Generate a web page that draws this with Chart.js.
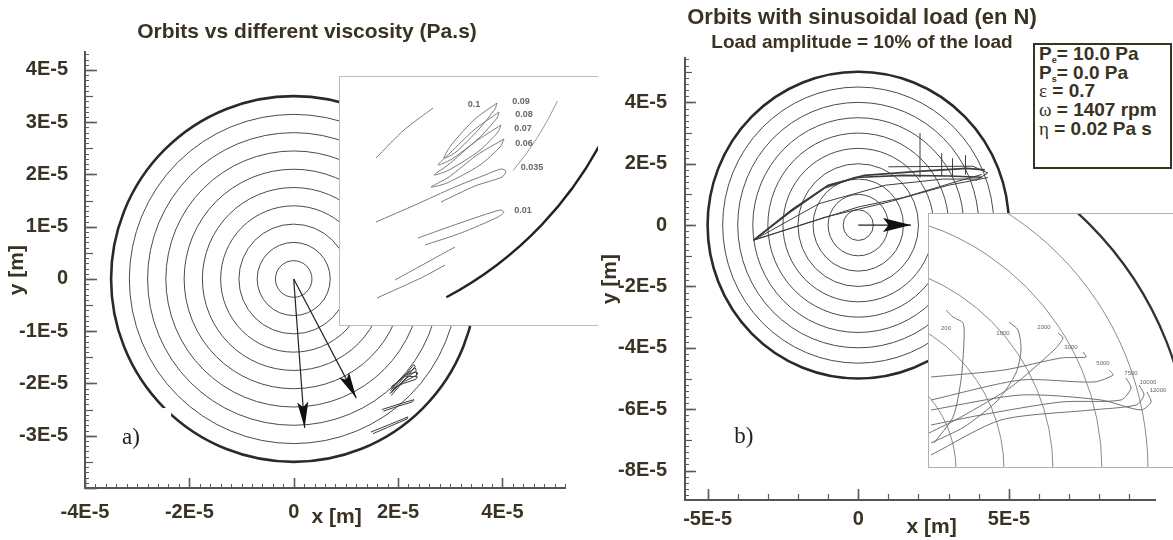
<!DOCTYPE html>
<html>
<head>
<meta charset="utf-8">
<script src="https://cdn.jsdelivr.net/npm/chart.js@4.4.1/dist/chart.umd.min.js"></script>
<style>
  html, body { margin: 0; padding: 0; background: #fff; }
  body { width: 1173px; height: 540px; position: relative; overflow: hidden; font-family: Arial, "Liberation Sans", sans-serif; }
  #leftMain { position: absolute; left: 0; top: 0; z-index: 1; }
  #rightMain { position: absolute; left: 551px; top: 0; z-index: 2; }
  .insetBox { position: absolute; background: #fff; z-index: 3; border: 1px solid #bcbcbc; border-right: none; }
  .insetBox canvas { display: block; }
  #leftInsetBox { left: 339px; top: 76px; }
  #rightInsetBox { left: 928px; top: 213px; border-color: #b0b0b0; }
  #legend { position: absolute; left: 1033px; top: 43px; width: 139px; height: 126px; box-sizing: border-box;
    border: 2px solid #3a3222; background: #fff; z-index: 4; color: #3a3222; padding: 0 0 0 4px;
    font: bold 19px/18.7px Arial, "Liberation Sans", sans-serif; white-space: nowrap; }
  #legend sub { font-size: 9px; line-height: 0; vertical-align: -3px; }
  #legend .g { font-family: "Liberation Serif", "Times New Roman", serif; font-weight: normal; }
</style>
</head>
<body>
<canvas id="leftMain" width="614" height="540"></canvas>
<canvas id="rightMain" width="622" height="540"></canvas>
<div class="insetBox" id="leftInsetBox"><canvas id="leftInset" width="258" height="248"></canvas></div>
<div class="insetBox" id="rightInsetBox"><canvas id="rightInset" width="245" height="253"></canvas></div>
<div id="legend">
  <div>P<sub>e</sub>= 10.0 Pa</div>
  <div>P<sub>s</sub>= 0.0 Pa</div>
  <div><span class="g">&epsilon;</span> = 0.7</div>
  <div><span class="g">&omega;</span> = 1407 rpm</div>
  <div><span class="g">&eta;</span> = 0.02 Pa s</div>
</div>
<script>
const TXT = '#3a3222';
const FONT = 'Arial, "Liberation Sans", sans-serif';
const E = 1e-5; // main plot values are kept in units of 1E-5 m

// ---------- left panel: orbits vs viscosity ----------
const leftTitle = 'Orbits vs different viscosity (Pa.s)';
const leftXTicks = [-4, -2, 0, 2, 4];
const leftYTicks = [-3, -2, -1, 0, 1, 2, 3, 4];
const leftRings = [0.35, 0.7, 1.05, 1.4, 1.75, 2.1, 2.45, 2.8, 3.15, 3.5];
const leftArrowTips = [[0.21, -2.85], [1.2, -2.28]];
const leftOrbits = [
  [[1.84, -2.20], [2.08, -1.92], [2.30, -1.64], [2.33, -1.67], [2.10, -1.96], [1.87, -2.23]],
  [[1.85, -2.14], [2.10, -1.86], [2.33, -1.70], [2.35, -1.75], [2.10, -1.95], [1.87, -2.18]],
  [[1.86, -2.10], [2.12, -1.84], [2.36, -1.78], [2.36, -1.84], [2.12, -1.96], [1.88, -2.14]],
  [[1.87, -2.06], [2.14, -1.86], [2.37, -1.87], [2.34, -1.92], [2.10, -2.00], [1.89, -2.10]],
  [[1.69, -2.50], [2.00, -2.40], [2.30, -2.31], [2.28, -2.35], [1.95, -2.45], [1.72, -2.53]],
  [[1.48, -2.93], [1.85, -2.78], [2.19, -2.64], [2.17, -2.68], [1.80, -2.84], [1.52, -2.96]]
];

// zoomed view (inset units)
const leftInsetArcs = [
  { c: [-6.9, 35.75], r: 31.6, from: -40, to: -25, w: 1, color: '#9a9a9a' },
  { c: [-6.9, 35.75], r: 37.35, from: -62, to: -25, w: 2.3, color: '#222' }
];
const leftInsetOrbits = [
  [[3.6, 16.7], [6.4, 19.5], [9.3, 21.7]],
  [[15.7, 22.2], [13.5, 20.6], [11.2, 18.1], [10.4, 16.7], [11.6, 17.3], [13.9, 19.6], [15.5, 21.6], [15.7, 22.2]],
  [[15.9, 21.3], [13.4, 19.5], [11.0, 17.2], [9.8, 16.0], [11.2, 16.6], [13.8, 18.6], [15.7, 20.7], [15.9, 21.3]],
  [[16.1, 20.0], [13.5, 18.3], [10.8, 16.0], [9.4, 15.0], [10.9, 15.5], [13.9, 17.4], [15.8, 19.3], [16.1, 20.0]],
  [[16.4, 18.6], [13.7, 17.0], [10.9, 14.8], [9.1, 13.8], [10.7, 14.2], [14.0, 16.0], [16.0, 17.8], [16.4, 18.6]],
  [[3.6, 10.3], [7.5, 12.0], [11.5, 13.8], [14.5, 15.0], [16.1, 15.6], [16.6, 15.4], [16.2, 14.8], [13.5, 13.9], [10.1, 12.3]],
  [[7.8, 8.7], [12.0, 10.2], [16.0, 11.5], [16.4, 11.3], [15.8, 10.8], [12.1, 9.2], [8.5, 8.0]],
  [[3.7, 2.7], [8.3, 4.8], [10.5, 6.0]],
  [[5.5, 4.5], [11.5, 7.8]]
];
const leftInsetLabels = ['0.1', '0.09', '0.08', '0.07', '0.06', '0.035', '0.01'];
const leftInsetLabelPos = [[13.4, 22.0], [18.1, 22.3], [18.4, 21.0], [18.3, 19.6], [18.4, 18.1], [19.2, 15.7], [18.3, 11.4]];

// ---------- right panel: sinusoidal load ----------
const rightTitle = 'Orbits with sinusoidal load (en N)';
const rightSubtitle = 'Load amplitude = 10% of the load';
const rightXTicks = [-5, 0, 5];
const rightYTicks = [-8, -6, -4, -2, 0, 2, 4];
const rightRings = [0.5, 1, 1.5, 2, 2.5, 3, 3.5, 4, 4.5, 5];
const rightArrowTip = [1.75, 0];
const rightOrbits = [
  [[-3.47, -0.49], [-2.3, 0.4], [-1.1, 1.22], [-0.1, 1.55], [1.5, 1.62], [3.0, 1.6], [4.1, 1.56]],
  [[-3.47, -0.49], [-2.2, 0.5], [-1.0, 1.3], [0.2, 1.62], [2.0, 1.75], [3.6, 1.85], [4.2, 1.8]],
  [[1.0, 1.9], [3.8, 1.92], [4.3, 1.7], [3.9, 1.45]],
  [[-3.47, -0.49], [-1.3, 0.7], [0.9, 1.3], [2.8, 1.5], [4.0, 1.5]],
  [[-3.47, -0.49], [0.0, 0.59], [1.5, 0.9], [3.2, 1.4], [4.1, 1.65]],
  [[-3.47, -0.49], [-1.1, 0.26], [1.0, 0.75], [3.0, 1.3], [4.3, 1.55]],
  [[2.05, 1.55], [2.05, 3.0]],
  [[2.77, 1.6], [2.77, 2.34]],
  [[3.13, 1.6], [3.13, 2.18]],
  [[3.56, 1.65], [3.56, 2.28]]
];

const rightInsetArcs = [
  { c: [-8.6, -0.3], r: 11.3, w: 1, color: '#8a8a8a' },
  { c: [-8.6, -0.3], r: 16.1, w: 1, color: '#8a8a8a' },
  { c: [-8.6, -0.3], r: 21.0, w: 1, color: '#8a8a8a' },
  { c: [-8.6, -0.3], r: 25.9, w: 1, color: '#8a8a8a' },
  { c: [-8.6, -0.3], r: 30.5, w: 1, color: '#8a8a8a' },
  { c: [-8.6, -0.3], r: 34.8, w: 2.3, color: '#333' }
];
const rightInsetOrbits = [
  [[1.7, 15.7], [2.4, 15.0], [3.4, 14.4], [3.5, 12.7], [3.2, 8.7], [2.4, 5.0], [0.5, 2.4]],
  [[8.0, 14.5], [8.9, 13.7], [9.2, 11.7], [8.7, 9.4], [6.9, 6.7], [3.5, 4.0], [0.2, 2.4]],
  [[12.9, 13.4], [13.4, 12.9], [12.5, 11.7], [8.2, 8.0], [3.2, 5.0], [0.0, 3.4]],
  [[15.4, 11.5], [15.7, 11.0], [13.2, 10.9], [7.5, 9.7], [0.2, 9.0]],
  [[18.0, 9.7], [18.4, 9.2], [16.5, 8.5], [9.2, 8.7], [0.2, 6.7]],
  [[19.7, 8.9], [20.2, 7.9], [19.2, 6.7], [13.2, 6.5], [5.2, 5.2], [0.2, 4.2]],
  [[21.0, 8.2], [21.5, 7.2], [20.7, 6.2], [16.2, 5.7], [7.2, 4.7], [0.2, 1.2]],
  [[21.8, 7.5], [22.2, 6.5], [21.2, 5.7], [17.2, 6.7], [9.2, 7.2], [0.2, 5.7]]
];
const rightInsetLabels = ['200', '1000', '2000', '3000', '5000', '7500', '10000', '12000'];
const rightInsetLabelPos = [[1.7, 13.9], [7.4, 13.4], [11.5, 14.0], [14.2, 12.0], [17.4, 10.4], [20.2, 9.4], [21.9, 8.5], [22.9, 7.7]];

const panelNotes = [
  { text: 'a)', x: -3.12, y: -3.04 },
  { text: 'b)', x: -3.8, y: -6.9 }
];

// ---------- helpers ----------
const toPts = (arr, k) => arr.map(([x, y]) => ({ x: x * k, y: y * k }));
const lineSet = (data, color, width, extra) => Object.assign(
  { data, showLine: true, borderColor: color, borderWidth: width, pointRadius: 0, fill: false, tension: 0 }, extra || {});
const fmt = v => { const k = Math.round(v / E); return k === 0 ? '0' : k + 'E-5'; };

function ringsPlugin(rings, k) {
  return {
    id: 'rings',
    beforeDatasetsDraw(chart) {
      const { ctx, chartArea: a, scales: { x, y } } = chart;
      ctx.save();
      ctx.beginPath(); ctx.rect(a.left, a.top, a.width, a.height); ctx.clip();
      rings.forEach(g => {
        const cx = x.getPixelForValue(g.c[0] * k), cy = y.getPixelForValue(g.c[1] * k);
        const rx = Math.abs(x.getPixelForValue((g.c[0] + g.r) * k) - cx);
        const ry = Math.abs(y.getPixelForValue((g.c[1] + g.r) * k) - cy);
        const from = g.from === undefined ? 0 : g.from * Math.PI / 180;
        const to = g.to === undefined ? 2 * Math.PI : g.to * Math.PI / 180;
        ctx.beginPath();
        ctx.ellipse(cx, cy, rx, ry, 0, -to, -from);
        ctx.lineWidth = g.w; ctx.strokeStyle = g.color; ctx.stroke();
      });
      ctx.restore();
    }
  };
}

function ticksPlugin(spec) {
  return {
    id: 'innerTicks',
    afterDraw(chart) {
      const { ctx, chartArea: a, scales } = chart;
      ctx.save(); ctx.strokeStyle = '#5a5a5a';
      spec.x.forEach(([step, len, w]) => {
        const s = scales.x; ctx.lineWidth = w;
        for (let n = Math.ceil(s.min / (step * E) - 1e-6); n <= Math.floor(s.max / (step * E) + 1e-6); n++) {
          const px = Math.round(s.getPixelForValue(n * step * E)) + 0.5;
          ctx.beginPath(); ctx.moveTo(px, a.bottom); ctx.lineTo(px, a.bottom - len); ctx.stroke();
        }
      });
      spec.y.forEach(([step, len, w]) => {
        const s = scales.y; ctx.lineWidth = w;
        for (let n = Math.ceil(s.min / (step * E) - 1e-6); n <= Math.floor(s.max / (step * E) + 1e-6); n++) {
          const py = Math.round(s.getPixelForValue(n * step * E)) + 0.5;
          ctx.beginPath(); ctx.moveTo(a.left, py); ctx.lineTo(a.left + len, py); ctx.stroke();
        }
      });
      ctx.restore();
    }
  };
}

function notesPlugin(notes, masks, k) {
  return {
    id: 'notes',
    afterDatasetsDraw(chart) {
      const { ctx, chartArea: a, scales: { x, y } } = chart;
      ctx.save();
      masks.forEach(m => {
        const x0 = Math.max(x.getPixelForValue(m[0] * k), a.left + 2), x1 = x.getPixelForValue(m[2] * k);
        const y0 = y.getPixelForValue(m[1] * k), y1 = Math.min(y.getPixelForValue(m[3] * k), a.bottom - 2);
        ctx.fillStyle = '#fff'; ctx.fillRect(x0, y0, x1 - x0, y1 - y0);
      });
      notes.forEach(n => {
        ctx.font = n.font; ctx.fillStyle = n.color;
        ctx.textAlign = 'center'; ctx.textBaseline = 'middle';
        ctx.fillText(n.text, x.getPixelForValue(n.x * k), y.getPixelForValue(n.y * k));
      });
      ctx.restore();
    }
  };
}

const arrowHeads = {
  id: 'arrowHeads',
  afterDatasetsDraw(chart) {
    const ctx = chart.ctx;
    chart.data.datasets.forEach((ds, i) => {
      if (!ds.head) return;
      const els = chart.getDatasetMeta(i).data;
      const p = els[els.length - 1], q = els[els.length - 2];
      const dx = p.x - q.x, dy = p.y - q.y, L = Math.hypot(dx, dy);
      const ux = dx / L, uy = dy / L, nx = -uy, ny = ux;
      const bx = p.x - ux * ds.head.len, by = p.y - uy * ds.head.len;
      ctx.save(); ctx.fillStyle = '#111';
      ctx.beginPath(); ctx.moveTo(p.x, p.y);
      ctx.lineTo(bx + nx * ds.head.half, by + ny * ds.head.half);
      ctx.lineTo(bx + ux * ds.head.len * 0.2, by + uy * ds.head.len * 0.2);
      ctx.lineTo(bx - nx * ds.head.half, by - ny * ds.head.half);
      ctx.closePath(); ctx.fill(); ctx.restore();
    });
  }
};

function axis(o) {
  return {
    type: 'linear', position: o.pos, min: o.min * E, max: o.max * E,
    grid: { display: false },
    border: { display: true, color: '#555', width: 2 },
    afterBuildTicks: s => { s.ticks = o.ticks.map(v => ({ value: v * E })); },
    afterFit: s => { if (o.pos === 'bottom') s.height = o.size; else s.width = o.size; },
    ticks: { color: TXT, font: { family: FONT, size: 20, weight: 'bold', lineHeight: 1 },
      padding: o.pad, autoSkip: false, maxRotation: 0, callback: v => fmt(v) },
    title: { display: true, text: o.title, color: TXT, font: { family: FONT, size: 21, weight: 'bold' }, padding: o.titlePad }
  };
}
const spacer = w => ({ type: 'linear', position: 'right', display: true, min: 0, max: 1,
  grid: { display: false }, border: { display: false }, ticks: { display: false },
  afterFit: s => { s.width = w; } });

const baseOpts = { responsive: false, animation: false, devicePixelRatio: 1, events: [] };

// ---------- left main chart ----------
new Chart(document.getElementById('leftMain'), {
  type: 'scatter',
  data: {
    datasets: [
      ...leftOrbits.map(o => lineSet(toPts(o, E), '#3c3c3c', 1)),
      ...leftArrowTips.map(t => lineSet(toPts([[0, 0], t], E), '#222', 1.2, { head: { len: 26, half: 5.5 } }))
    ]
  },
  options: Object.assign({}, baseOpts, {
    layout: { padding: { left: 0, right: 0, top: 0, bottom: 10 } },
    plugins: {
      legend: { display: false }, tooltip: { enabled: false },
      title: { display: true, text: leftTitle, color: TXT, font: { family: FONT, size: 21, weight: 'bold' }, padding: { top: 20, bottom: 7 } }
    },
    scales: {
      x: axis({ pos: 'bottom', min: -4.0, max: 5.2, ticks: leftXTicks, size: 42, pad: 6, title: '    x [m]', titlePad: { top: 0, bottom: 0 } }),
      y: axis({ pos: 'left', min: -4.0, max: 4.34, ticks: leftYTicks, size: 85, pad: 9, title: 'y [m]', titlePad: { top: 4.4, bottom: 0 } }),
      y2: spacer(49)
    }
  }),
  plugins: [
    ringsPlugin(leftRings.map((r, i) => ({ c: [0, 0], r, w: i === leftRings.length - 1 ? 2.6 : 1, color: i === leftRings.length - 1 ? '#2a2a2a' : '#4a4a4a' })), E),
    notesPlugin([Object.assign({ font: '23px "Liberation Serif", "Times New Roman", serif', color: '#222' }, panelNotes[0])], [[-4.0, -2.47, -2.35, -4.0]], E),
    arrowHeads,
    ticksPlugin({ x: [[0.2, 4, 1], [2, 10, 1.6]], y: [[0.1, 4, 1], [0.5, 8, 1.2], [1, 12, 1.6]] })
  ]
});

// ---------- right main chart ----------
new Chart(document.getElementById('rightMain'), {
  type: 'scatter',
  data: {
    datasets: [
      ...rightOrbits.map((o, i) => lineSet(toPts(o, E), '#3c3c3c', i < 2 ? 1.6 : 1)),
      lineSet(toPts([[0, 0], rightArrowTip], E), '#222', 1.2, { head: { len: 28, half: 7 } })
    ]
  },
  options: Object.assign({}, baseOpts, {
    layout: { padding: { left: 0, right: 0, top: 0, bottom: 0 } },
    plugins: {
      legend: { display: false }, tooltip: { enabled: false },
      title: { display: true, text: rightTitle, color: TXT, font: { family: FONT, size: 22, weight: 'bold' }, padding: { top: 5, bottom: 0 } },
      subtitle: { display: true, text: rightSubtitle, color: TXT, font: { family: FONT, size: 19, weight: 'bold' }, padding: { top: 0, bottom: 4 } }
    },
    scales: {
      x: axis({ pos: 'bottom', min: -5.75, max: 9.85, ticks: rightXTicks, size: 40, pad: 1, title: '    x [m]', titlePad: { top: 0, bottom: 0 } }),
      y: axis({ pos: 'left', min: -8.96, max: 5.44, ticks: rightYTicks, size: 134, pad: 10, title: 'y [m]', titlePad: { top: 46.4, bottom: 0 } }),
      y2: spacer(18)
    }
  }),
  plugins: [
    ringsPlugin(rightRings.map((r, i) => ({ c: [0, 0], r, w: i === rightRings.length - 1 ? 2.6 : 1, color: i === rightRings.length - 1 ? '#2a2a2a' : '#4a4a4a' })), E),
    notesPlugin([Object.assign({ font: '23px "Liberation Serif", "Times New Roman", serif', color: '#222' }, panelNotes[1])], [], E),
    arrowHeads,
    ticksPlugin({ x: [[1, 6, 1.2], [5, 11, 1.6]], y: [[0.2, 4, 1], [1, 7, 1.2], [2, 11, 1.6]] })
  ]
});

// ---------- insets ----------
function insetChart(id, w, h, arcs, orbits, labels, labelPos, labelFont, orbitColor) {
  new Chart(document.getElementById(id), {
    type: 'scatter',
    data: { datasets: orbits.map(o => lineSet(toPts(o, 1), orbitColor, 1, { tension: 0.25 })) },
    options: Object.assign({}, baseOpts, {
      layout: { padding: 0 },
      plugins: { legend: { display: false }, tooltip: { enabled: false } },
      scales: {
        x: { type: 'linear', display: false, min: 0, max: w },
        y: { type: 'linear', display: false, min: 0, max: h }
      }
    }),
    plugins: [
      ringsPlugin(arcs, 1),
      notesPlugin(labels.map((t, i) => ({ text: t, x: labelPos[i][0], y: labelPos[i][1], font: labelFont, color: '#666' })), [], 1)
    ]
  });
}
insetChart('leftInset', 25.8, 24.8, leftInsetArcs, leftInsetOrbits, leftInsetLabels, leftInsetLabelPos, 'bold 9px ' + FONT, '#7a7a7a');
insetChart('rightInset', 24.5, 25.3, rightInsetArcs, rightInsetOrbits, rightInsetLabels, rightInsetLabelPos, '6px ' + FONT, '#707070');
</script>
</body>
</html>
